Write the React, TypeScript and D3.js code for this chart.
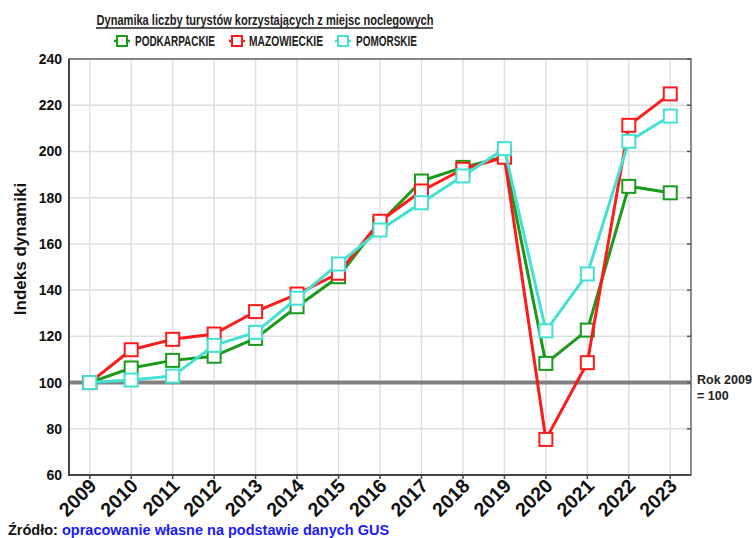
import * as d3 from "d3";

const years = [2009, 2010, 2011, 2012, 2013, 2014, 2015, 2016, 2017, 2018, 2019, 2020, 2021, 2022, 2023];
const podkarpackie = [100, 106.3, 109.6, 111.4, 119.1, 132.8, 145.8, 169, 187.2, 193.1, 197.7, 108.3, 122.7, 184.9, 182.1];
const mazowieckie = [100, 114.2, 118.7, 121, 130.7, 138.3, 147.3, 169.8, 182.9, 192.3, 197.5, 75.4, 108.6, 211.3, 224.9];
const pomorskie = [100, 101.1, 102.8, 116.1, 121.7, 136.5, 151.3, 166, 177.8, 189.4, 201.2, 122.4, 147, 204.4, 215.3];
const yTicks = [60, 80, 100, 120, 140, 160, 180, 200, 220, 240];

const series = [
  { name: "PODKARPACKIE", values: podkarpackie, color: "#1a9a1a", lx: 122, tx: 135, tl: 80 },
  { name: "MAZOWIECKIE", values: mazowieckie, color: "#ff1a1a", lx: 237, tx: 249, tl: 74 },
  { name: "POMORSKIE", values: pomorskie, color: "#44e0d4", lx: 343, tx: 356, tl: 61 },
];

const W = 755;
const H = 538;
const margin = { left: 69, right: 64, top: 59, bottom: 63 };

export default function App() {
  const x = d3
    .scaleLinear()
    .domain([2008.5, 2023.5])
    .range([margin.left, W - margin.right]);
  const y = d3
    .scaleLinear()
    .domain([60, 240])
    .range([H - margin.bottom, margin.top]);

  const line = d3
    .line<number>()
    .x((d, i) => x(years[i]))
    .y((d) => y(d));

  const font = "Liberation Sans, Arial, sans-serif";
  const ms = 13;

  return (
    <svg
      width={W}
      height={H}
      style={{ position: "absolute", left: 0, top: 0, background: "#fff" }}
      fontFamily={font}
    >
      {/* title */}
      <text x={265} y={24.5} textAnchor="middle" fontSize={15} fontWeight="bold" textLength={337} lengthAdjust="spacingAndGlyphs" fill="#222">
        Dynamika liczby turystów korzystających z miejsc noclegowych
      </text>
      <line x1={96} x2={433} y1={28} y2={28} stroke="#222" strokeWidth={1.4} />

      {/* legend */}
      {series.map((s) => (
        <g key={s.name}>
          <line x1={s.lx - 8} x2={s.lx + 8} y1={41} y2={41} stroke={s.color} strokeWidth={2.5} />
          <rect x={s.lx - 5} y={36} width={10} height={10} fill="#fff" stroke={s.color} strokeWidth={2} />
          <text x={s.tx} y={46} fontSize={14.5} fontWeight="bold" textLength={s.tl} lengthAdjust="spacingAndGlyphs" fill="#222">
            {s.name}
          </text>
        </g>
      ))}

      {/* grid */}
      {years.map((yr) => (
        <line key={"gx" + yr} x1={x(yr)} x2={x(yr)} y1={y(240)} y2={y(60)} stroke="#dedede" strokeWidth={1.5} />
      ))}
      {yTicks.map((t) => (
        <line key={"gy" + t} x1={x(2008.5)} x2={x(2023.5)} y1={y(t)} y2={y(t)} stroke="#dedede" strokeWidth={1.5} />
      ))}

      {/* baseline 100 */}
      <line x1={x(2008.5)} x2={x(2023.5)} y1={y(100)} y2={y(100)} stroke="#808080" strokeWidth={4} />

      {/* frame */}
      <rect
        x={x(2008.5)}
        y={y(240)}
        width={x(2023.5) - x(2008.5)}
        height={y(60) - y(240)}
        fill="none"
        stroke="#666"
        strokeWidth={1.5}
      />
      <line x1={x(2008.5)} x2={x(2008.5)} y1={y(240)} y2={y(60) + 1} stroke="#444" strokeWidth={2} />
      <line x1={x(2008.5) - 1} x2={x(2023.5)} y1={y(60)} y2={y(60)} stroke="#444" strokeWidth={2} />
      {yTicks.map((t) => (
        <line key={"rt" + t} x1={x(2023.5) - 4} x2={x(2023.5)} y1={y(t)} y2={y(t)} stroke="#555" strokeWidth={1.5} />
      ))}
      {years.map((yr) => (
        <line key={"bt" + yr} x1={x(yr)} x2={x(yr)} y1={y(60)} y2={y(60) + 4} stroke="#444" strokeWidth={1.5} />
      ))}

      {/* y tick labels */}
      {yTicks.map((t) => (
        <text key={"yl" + t} x={62} y={y(t) + 5} textAnchor="end" fontSize={14} fontWeight="bold" fill="#111">
          {t}
        </text>
      ))}

      {/* x tick labels */}
      {years.map((yr) => (
        <text
          key={"xl" + yr}
          transform={`translate(${x(yr) + 8},${y(60) + 12}) rotate(-45)`}
          textAnchor="end"
          fontSize={19.5}
          fontWeight="bold"
          fill="#111"
        >
          {yr}
        </text>
      ))}

      {/* y axis title */}
      <text
        transform={`translate(26,${249}) rotate(-90)`}
        textAnchor="middle"
        fontSize={17}
        fontWeight="bold"
        fill="#111"
      >
        Indeks dynamiki
      </text>

      {/* series */}
      {series.map((s) => (
        <g key={"s" + s.name}>
          <path d={line(s.values) ?? ""} fill="none" stroke={s.color} strokeWidth={3} strokeLinejoin="round" />
          {s.values.map((v, i) => (
            <rect
              key={i}
              x={x(years[i]) - ms / 2}
              y={y(v) - ms / 2}
              width={ms}
              height={ms}
              fill="#fff"
              stroke={s.color}
              strokeWidth={2}
            />
          ))}
        </g>
      ))}

      {/* reference note */}
      <text x={697} y={384} fontSize={12.5} fontWeight="bold" fill="#222">
        Rok 2009
      </text>
      <text x={697} y={400} fontSize={12.5} fontWeight="bold" fill="#222">
        = 100
      </text>

      {/* source */}
      <text x={8} y={535} fontSize={14.5} fontWeight="bold">
        <tspan fill="#111">Źródło: </tspan>
        <tspan fill="#1a1aff">opracowanie własne na podstawie danych GUS</tspan>
      </text>
    </svg>
  );
}
